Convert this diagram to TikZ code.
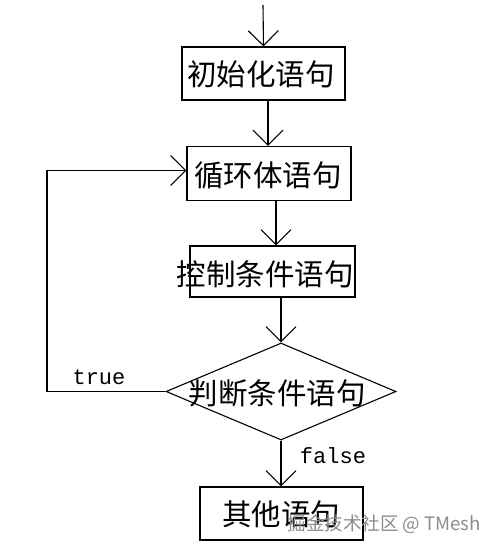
\documentclass[tikz,border=0pt]{standalone}
\usepackage{fontspec}
\newfontfamily\cjk{Noto Sans CJK SC}
\newfontfamily\monof{Liberation Mono}
\usetikzlibrary{shapes.geometric,arrows.meta,calc}
\begin{document}
\begin{tikzpicture}[x=1pt,y=-1pt,
  box/.style={draw,line width=1.1pt,rectangle,inner sep=0pt},
  lbl/.style={font=\cjk\fontsize{29.5}{29.5}\selectfont,inner sep=0pt},
  tf/.style={font=\monof\fontsize{22}{22}\selectfont,inner sep=0pt},
  arr/.style={line width=1.1pt,-{Straight Barb[length=15pt,width=30pt,line width=1.1pt]}},
  ln/.style={line width=1.1pt}]
\useasboundingbox[fill=white] (0,0) rectangle (495,551);
\coordinate (s) at (263,5);
\node[box,minimum width=163pt,minimum height=53pt] (b1) at (263.5,73.5) {};
\node[lbl] (t1) at (261,74) {初始化语句};
\node[box,minimum width=164pt,minimum height=54pt] (b2) at (269,173.5) {};
\node[lbl] (t2) at (268,175) {循环体语句};
\node[box,minimum width=165pt,minimum height=51pt] (b3) at (272.5,271.5) {};
\node[lbl] (t3) at (265,274) {控制条件语句};
\node[draw,line width=1.1pt,diamond,minimum width=230pt,minimum height=97pt,inner sep=0pt] (d) at (281,391.5) {};
\node[lbl] (t4) at (277,393) {判断条件语句};
\node[box,minimum width=163pt,minimum height=53pt] (b5) at (281.5,513.5) {};
\node[lbl] (t5) at (281,514) {其他语句};
\coordinate (k) at (47,0);
\draw[arr] (s) -- (b1.north);
\draw[arr] ([xshift=4.5pt]b1.south) -- ([xshift=4.5pt]b1.south |- b2.north);
\draw[arr] ([xshift=7pt]b2.south) -- ([xshift=7pt]b2.south |- b3.north);
\draw[arr] (b3.south -| d.north) -- (d.north);
\draw[arr] (d.south) -- (d.south |- b5.north);
\draw[arr] (d.west) -- (d.west -| k) |- ([yshift=3pt]b2.west);
\node[tf] (tt) at (99,377) {true};
\node[tf] (tfl) at (333,456) {false};
\node[font=\cjk\fontsize{18.5}{18.5}\selectfont,text=black!45,inner sep=0pt,anchor=east] (wm) at (481,524) {掘金技术社区 @ TMesh};
\end{tikzpicture}
\end{document}
